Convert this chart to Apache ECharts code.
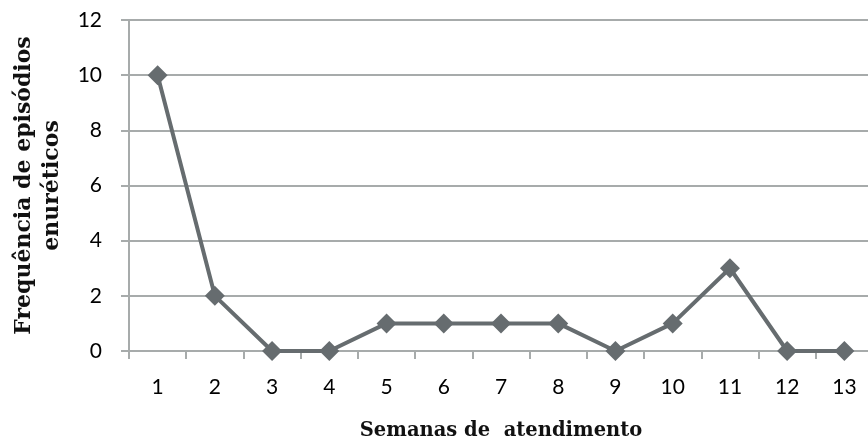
<!DOCTYPE html>
<html>
<head>
<meta charset="utf-8">
<script src="https://cdn.jsdelivr.net/npm/echarts@6/dist/echarts.min.js"></script>
<style>
  html, body { margin: 0; padding: 0; background: #fff; }
  #chart { width: 868px; height: 438px; }
</style>
</head>
<body>
<div id="chart"></div>
<script>
// dados
const semanas = ['1', '2', '3', '4', '5', '6', '7', '8', '9', '10', '11', '12', '13'];
const episodios = [10, 2, 0, 0, 1, 1, 1, 1, 0, 1, 3, 0, 0];
const yTicks = { min: 0, max: 12, interval: 2 };

const chart = echarts.init(document.getElementById('chart'), null, { renderer: 'canvas' });

const lineColor = '#666c6f';
const gridColor = '#a7abab';

chart.setOption({
  backgroundColor: '#fff',
  animation: false,
  grid: {
    left: 129,
    right: -5,
    top: 20,
    bottom: 87,
    containLabel: false,
    outerBoundsMode: 'none'
  },
  xAxis: {
    type: 'category',
    data: semanas,
    boundaryGap: true,
    name: 'Semanas de  atendimento',
    nameLocation: 'middle',
    nameGap: 70,
    nameTextStyle: {
      fontFamily: 'DejaVu Serif',
      fontWeight: 'bold',
      fontSize: 19.5,
      color: '#111'
    },
    axisLine: { lineStyle: { color: gridColor, width: 2 } },
    axisTick: { show: true, length: 8, lineStyle: { color: gridColor, width: 2 } },
    axisLabel: {
      margin: 26,
      fontFamily: 'Lato',
      fontSize: 21,
      color: '#000'
    }
  },
  yAxis: {
    type: 'value',
    min: yTicks.min,
    max: yTicks.max,
    interval: yTicks.interval,
    name: 'Frequência de episódios\nenuréticos',
    nameLocation: 'middle',
    nameRotate: 90,
    nameGap: 51,
    nameTextStyle: {
      fontFamily: 'DejaVu Serif',
      fontWeight: 'bold',
      fontSize: 22,
      lineHeight: 28,
      color: '#111',
      align: 'center'
    },
    axisLine: { show: true, lineStyle: { color: gridColor, width: 2 } },
    axisTick: { show: true, length: 8, lineStyle: { color: gridColor, width: 2 } },
    splitLine: { lineStyle: { color: gridColor, width: 2 } },
    axisLabel: {
      margin: 27,
      fontFamily: 'Lato',
      fontSize: 21,
      color: '#000'
    }
  },
  series: [{
    name: 'Episódios',
    type: 'line',
    data: episodios,
    symbol: 'diamond',
    symbolSize: 20,
    lineStyle: { color: lineColor, width: 4 },
    itemStyle: { color: lineColor }
  }]
});
</script>
</body>
</html>
